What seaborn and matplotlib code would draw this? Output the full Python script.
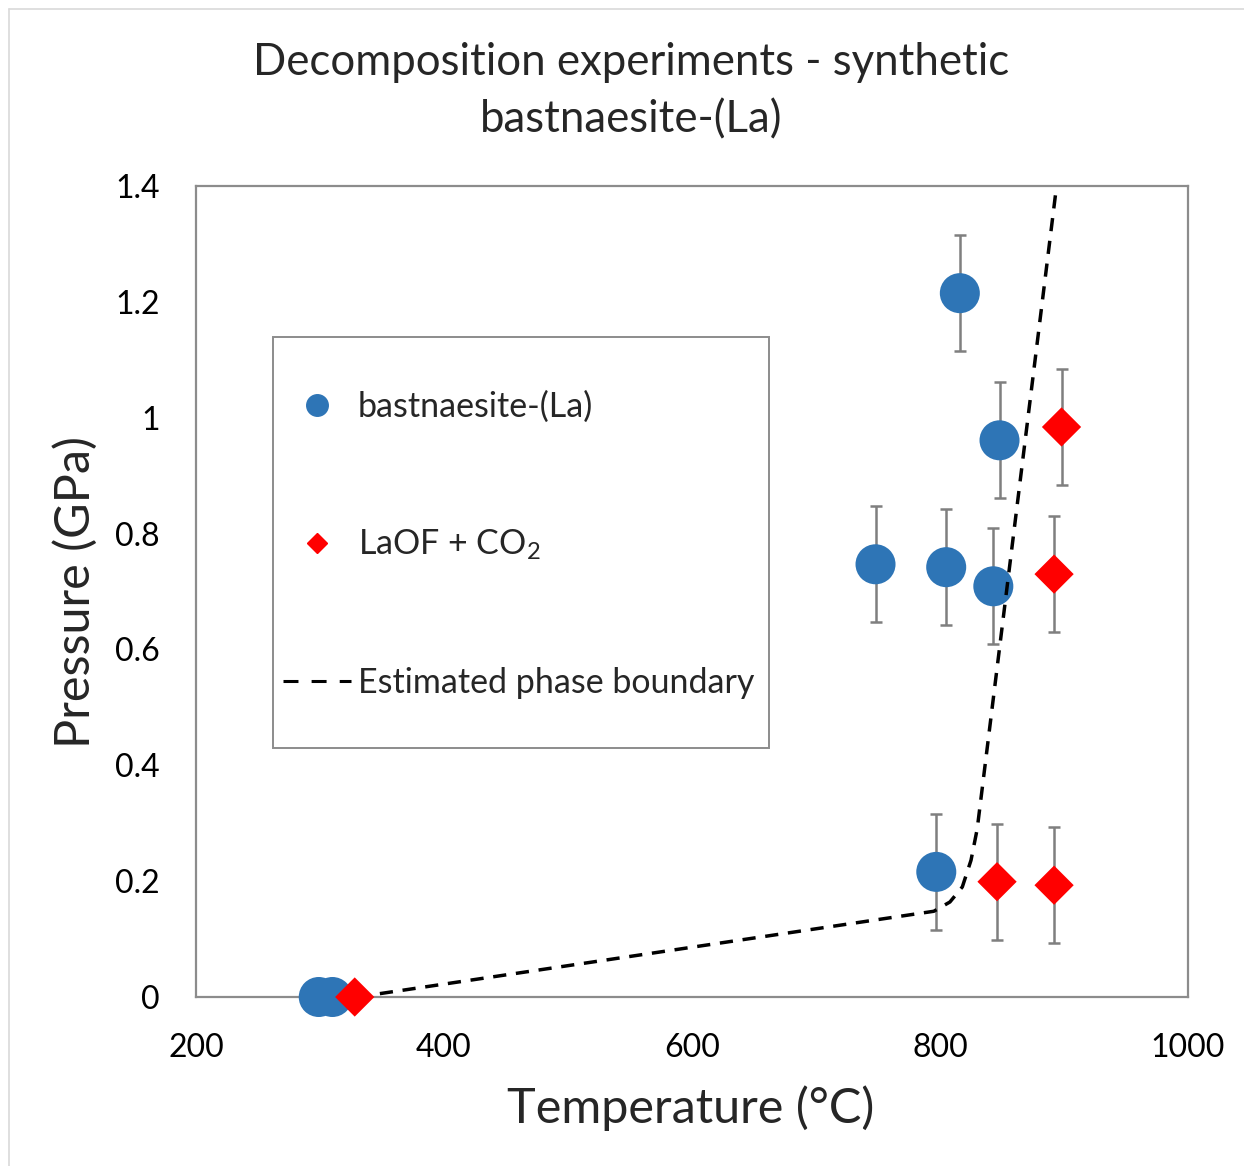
import matplotlib
matplotlib.use("Agg")
import matplotlib.pyplot as plt
import seaborn as sns
import pandas as pd
import numpy as np
from matplotlib.lines import Line2D
from matplotlib.patches import Rectangle

# ---- data ----
bast_T = [299, 310, 816, 848, 748, 805, 843, 797]
bast_P = [0.0, 0.0, 1.215, 0.961, 0.747, 0.742, 0.709, 0.216]
bast_err = [0.0, 0.0, 0.1, 0.1, 0.1, 0.1, 0.1, 0.1]

laof_T = [328, 898, 892, 846, 892]
laof_P = [0.0, 0.984, 0.730, 0.199, 0.193]
laof_err = [0.0, 0.1, 0.1, 0.1, 0.1]

bound_T = [330, 795, 808, 818, 825, 830, 894]
bound_P = [0.0, 0.148, 0.164, 0.19, 0.236, 0.29, 1.4]

x_ticks = [200, 400, 600, 800, 1000]
y_ticks = [0, 0.2, 0.4, 0.6, 0.8, 1.0, 1.2, 1.4]
y_labels = ["0", "0.2", "0.4", "0.6", "0.8", "1", "1.2", "1.4"]

title = "Decomposition experiments - synthetic\nbastnaesite-(La)"
xlabel = "Temperature (°C)"
ylabel = "Pressure (GPa)"
lab_bast = "bastnaesite-(La)"
lab_laof = "LaOF + CO$_2$"
lab_bound = "Estimated phase boundary"

BLUE = "#2e75b6"
RED = "#ff0000"
GRAY = "#7f7f7f"

sns.set_style("white")
plt.rcParams["font.family"] = ["Lato", "DejaVu Sans"]
plt.rcParams["mathtext.default"] = "regular"

fig = plt.figure(figsize=(12.44, 11.66), dpi=100)
ax = fig.add_axes([196 / 1244, 1 - 997 / 1166, 992 / 1244, 811 / 1166])

df_b = pd.DataFrame({"T": bast_T, "P": bast_P})
df_l = pd.DataFrame({"T": laof_T, "P": laof_P})
df_bd = pd.DataFrame({"T": bound_T, "P": bound_P})

# error bars
for T, P, e in zip(bast_T + laof_T, bast_P + laof_P, bast_err + laof_err):
    if e > 0:
        ax.errorbar(T, P, yerr=e, fmt="none", ecolor=GRAY, elinewidth=1.8,
                    capsize=4, capthick=1.8, zorder=2)

sns.lineplot(data=df_bd, x="T", y="P", ax=ax, sort=False, color="black",
             linewidth=2.5, zorder=4, estimator=None)
ax.lines[-1].set_dashes((3.8, 2.8))

sns.scatterplot(data=df_b, x="T", y="P", ax=ax, marker="o", s=830,
                color=BLUE, edgecolor="none", linewidth=0, zorder=3)
sns.scatterplot(data=df_l, x="T", y="P", ax=ax, marker="D", s=400,
                color=RED, edgecolor="none", linewidth=0, zorder=5)
for coll in ax.collections:
    coll.set_clip_on(False)

ax.set_xlim(200, 1000)
ax.set_ylim(0, 1.4)
ax.set_xticks(x_ticks)
ax.set_xticklabels([str(t) for t in x_ticks])
ax.set_yticks(y_ticks)
ax.set_yticklabels(y_labels)
ax.tick_params(axis="both", length=0, labelsize=23, colors="black")
ax.tick_params(axis="x", pad=26)
ax.tick_params(axis="y", pad=26)
for sp in ax.spines.values():
    sp.set_color("#8c8c8c")
    sp.set_linewidth(1.6)
    sp.set_visible(True)
    sp.set_zorder(1)
ax.set_xlabel("")
ax.set_ylabel("")

fig.text(691 / 1244, 1 - 1108 / 1166, xlabel, ha="center", va="center", fontsize=35)
fig.text(75 / 1244, 1 - 592 / 1166, ylabel, ha="center", va="center", fontsize=35,
         rotation=90)
fig.text(631 / 1244, 1 - 91 / 1166, title, ha="center", va="center", fontsize=31.5,
         linespacing=1.5)

handles = [
    Line2D([], [], marker="o", color=BLUE, linestyle="none", markersize=15.5),
    Line2D([], [], marker="D", color=RED, linestyle="none", markersize=10.5),
    Line2D([], [], color="black", linewidth=2.2, dashes=(4.9, 4.3)),
]
leg = ax.legend(handles, [lab_bast, lab_laof, lab_bound],
                loc="upper left", bbox_to_anchor=(87 / 992, (997 - 391) / 811),
                frameon=False, fontsize=24.5, labelspacing=3.07, borderpad=0,
                handlelength=2.0, handletextpad=0.2, borderaxespad=0)

# legend frame
ax.add_patch(Rectangle(((273 - 196) / 992, (997 - 748) / 811),
                       (769 - 273) / 992, (748 - 337) / 811,
                       transform=ax.transAxes, fill=True, facecolor="white",
                       edgecolor="#8c8c8c", linewidth=1.4, zorder=1))

# outer chart-area border (top and left visible in the reference)
fig.add_artist(Line2D([9 / 1244, 1], [1 - 9 / 1166, 1 - 9 / 1166],
                      transform=fig.transFigure, color="#d9d9d9", linewidth=1.2))
fig.add_artist(Line2D([9 / 1244, 9 / 1244], [0, 1 - 9 / 1166],
                      transform=fig.transFigure, color="#d9d9d9", linewidth=1.2))

fig.savefig("out.png", dpi=100)
